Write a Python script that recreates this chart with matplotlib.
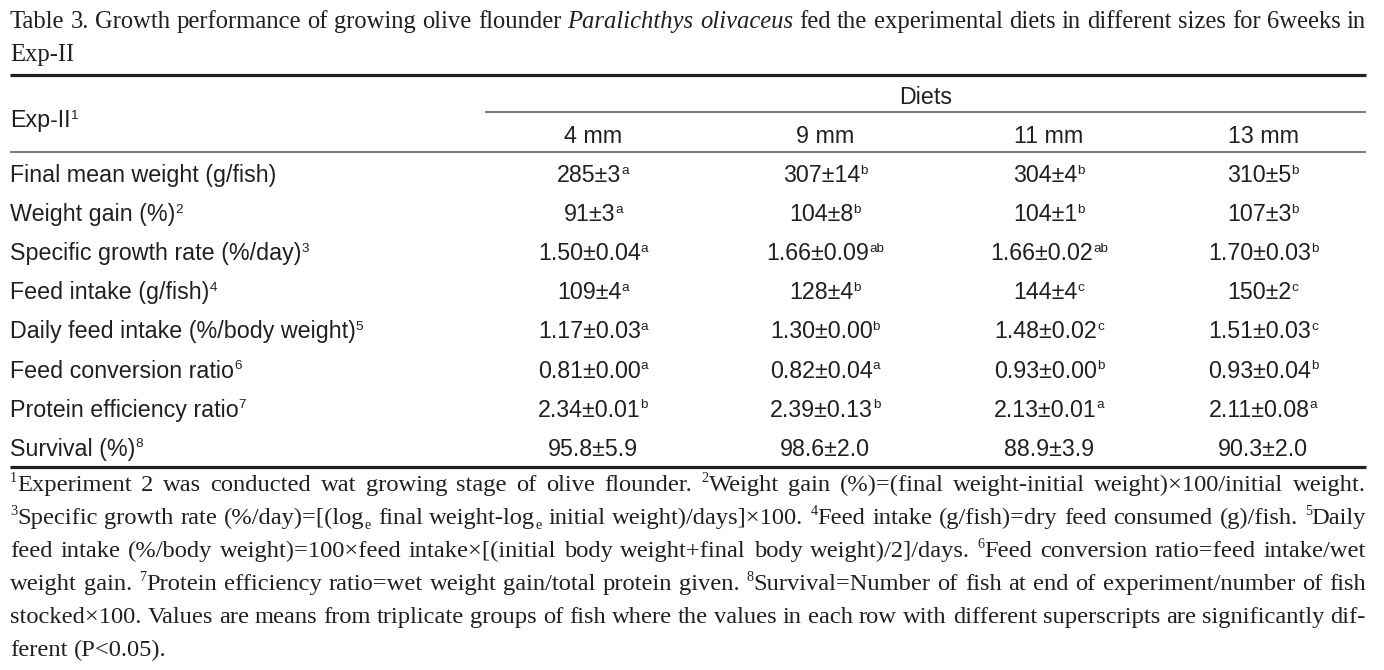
import re
import matplotlib
matplotlib.use("Agg")
import matplotlib.pyplot as plt

# ---- table data ----
diet_sizes = ["4 mm", "9 mm", "11 mm", "13 mm"]
row_labels = ["Final mean weight (g/fish)", "Weight gain (%)", "Specific growth rate (%/day)",
              "Feed intake (g/fish)", "Daily feed intake (%/body weight)", "Feed conversion ratio",
              "Protein efficiency ratio", "Survival (%)"]
row_notes = ["", "2", "3", "4", "5", "6", "7", "8"]

diet_4mm = ["285±3", "91±3", "1.50±0.04", "109±4", "1.17±0.03", "0.81±0.00", "2.34±0.01", "95.8±5.9"]
sup_4mm = ["a", "a", "a", "a", "a", "a", "b", ""]
diet_9mm = ["307±14", "104±8", "1.66±0.09", "128±4", "1.30±0.00", "0.82±0.04", "2.39±0.13", "98.6±2.0"]
sup_9mm = ["b", "b", "ab", "b", "b", "a", "b", ""]
diet_11mm = ["304±4", "104±1", "1.66±0.02", "144±4", "1.48±0.02", "0.93±0.00", "2.13±0.01", "88.9±3.9"]
sup_11mm = ["b", "b", "ab", "c", "c", "b", "a", ""]
diet_13mm = ["310±5", "107±3", "1.70±0.03", "150±2", "1.51±0.03", "0.93±0.04", "2.11±0.08", "90.3±2.0"]
sup_13mm = ["b", "b", "b", "c", "c", "b", "a", ""]

columns = [(diet_4mm, sup_4mm), (diet_9mm, sup_9mm), (diet_11mm, sup_11mm), (diet_13mm, sup_13mm)]

title_lines = [
    "Table 3. Growth performance of growing olive flounder {/Paralichthys} {/olivaceus} fed the "
    "experimental diets in different sizes for 6weeks in",
    "Exp-II",
]
note_lines = [
    "{^1}Experiment 2 was conducted wat growing stage of olive flounder. {^2}Weight gain "
    "(%)=(final weight-initial weight)×100/initial weight.",
    "{^3}Specific growth rate (%/day)=[(log{_e} final weight-log{_e} initial weight)/days]×100. "
    "{^4}Feed intake (g/fish)=dry feed consumed (g)/fish. {^5}Daily",
    "feed intake (%/body weight)=100×feed intake×[(initial body weight+final body weight)/2]/days. "
    "{^6}Feed conversion ratio=feed intake/wet",
    "weight gain. {^7}Protein efficiency ratio=wet weight gain/total protein given. "
    "{^8}Survival=Number of fish at end of experiment/number of fish",
    "stocked×100. Values are means from triplicate groups of fish where the values in each row "
    "with different superscripts are significantly dif-",
    "ferent (P<0.05).",
]

# ---- layout ----
W, H = 1384, 670
LEFT, RIGHT = 10, 1366
INK = "#231f20"
SERIF = "Liberation Serif"
SANS = "Liberation Sans"

fig = plt.figure(figsize=(W / 100, H / 100), dpi=100)
ax = fig.add_axes([0, 0, 1, 1])
ax.set_xlim(0, W)
ax.set_ylim(H, 0)
ax.axis("off")
renderer = fig.canvas.get_renderer()


def parse_word(word):
    # split a word into runs: plain, italic {/..}, superscript {^..}, subscript {_..}
    runs = []
    for m in re.finditer(r"\{([/^_])([^}]*)\}|([^{]+)", word):
        if m.group(3):
            runs.append((m.group(3), "n"))
        else:
            kind = {"/": "i", "^": "sup", "_": "sub"}[m.group(1)]
            runs.append((m.group(2), kind))
    return runs


def run_style(kind, size):
    if kind == "sup":
        return dict(fontsize=size * 0.58), -0.36 * size * 100 / 72
    if kind == "sub":
        return dict(fontsize=size * 0.58), 0.2 * size * 100 / 72
    if kind == "i":
        return dict(fontsize=size, fontstyle="italic"), 0
    return dict(fontsize=size), 0


def run_width(text, kind, family, size):
    st, _ = run_style(kind, size)
    t = ax.text(0, 0, text, family=family, **st)
    w = t.get_window_extent(renderer).width
    t.remove()
    return w


def runs_width(runs, family, size):
    return sum(run_width(t, k, family, size) for t, k in runs)


def space_width(family, size):
    return run_width("a a", "n", family, size) - 2 * run_width("a", "n", family, size)


def natural_width(line, family, size):
    words = [parse_word(w) for w in line.split(" ")]
    return sum(runs_width(w, family, size) for w in words) + (len(words) - 1) * space_width(family, size)


def draw_runs(x, y, runs, family, size, color=INK):
    for text, kind in runs:
        st, dy = run_style(kind, size)
        ax.text(x, y + dy, text, family=family, va="baseline", ha="left", color=color, **st)
        x += run_width(text, kind, family, size)
    return x


def draw_line(y, line, family, size, justify=True):
    words = [parse_word(w) for w in line.split(" ")]
    widths = [runs_width(w, family, size) for w in words]
    if justify and len(words) > 1:
        gap = (RIGHT - LEFT - sum(widths)) / (len(words) - 1)
    else:
        gap = space_width(family, size)
    x = LEFT
    for w, wd in zip(words, widths):
        draw_runs(x, y, w, family, size)
        x += wd + gap


# font sizes: the tightest justified lines set with ordinary word spacing,
# table text sized so the first row label spans its measured width
title_size = 16.0 * (RIGHT - LEFT) / natural_width(title_lines[0], SERIF, 16.0)
note_size = 16.0 * (RIGHT - LEFT) / natural_width(note_lines[4], SERIF, 16.0)
sans_size = 12.0 * 267 / run_width(row_labels[0], "n", SANS, 12.0)

# title
draw_line(28, title_lines[0], SERIF, title_size, justify=True)
draw_line(61, title_lines[1], SERIF, title_size, justify=False)

# rules
ax.plot([LEFT, RIGHT], [75, 75], color=INK, lw=2.3, solid_capstyle="butt")
ax.plot([485, RIGHT], [112, 112], color="#555555", lw=1.1, solid_capstyle="butt")
ax.plot([LEFT, RIGHT], [152, 152], color="#555555", lw=1.1, solid_capstyle="butt")
ax.plot([LEFT, RIGHT], [467, 467], color=INK, lw=2.3, solid_capstyle="butt")

# header
draw_runs(LEFT, 127, [("Exp-II", "n"), ("1", "sup")], SANS, sans_size)
ax.text((485 + RIGHT) / 2, 104, "Diets", family=SANS, fontsize=sans_size, color=INK,
        ha="center", va="baseline")
col_x = [593, 825, 1049, 1263]
for cx, name in zip(col_x, diet_sizes):
    ax.text(cx, 143, name, family=SANS, fontsize=sans_size, color=INK, ha="center", va="baseline")

# body rows
row_y0, row_step = 182, 39.1
for i, (label, note) in enumerate(zip(row_labels, row_notes)):
    y = row_y0 + i * row_step
    runs = [(label, "n")] + ([(note, "sup")] if note else [])
    draw_runs(LEFT, y, runs, SANS, sans_size)
    for cx, (vals, sups) in zip(col_x, columns):
        cell = [(vals[i], "n")] + ([(sups[i], "sup")] if sups[i] else [])
        w = runs_width(cell, SANS, sans_size)
        draw_runs(cx - w / 2, y, cell, SANS, sans_size)

# footnotes
for j, line in enumerate(note_lines):
    last = j == len(note_lines) - 1
    draw_line(491 + j * 33, line, SERIF, note_size, justify=not last)

fig.savefig("out.png", dpi=100)
